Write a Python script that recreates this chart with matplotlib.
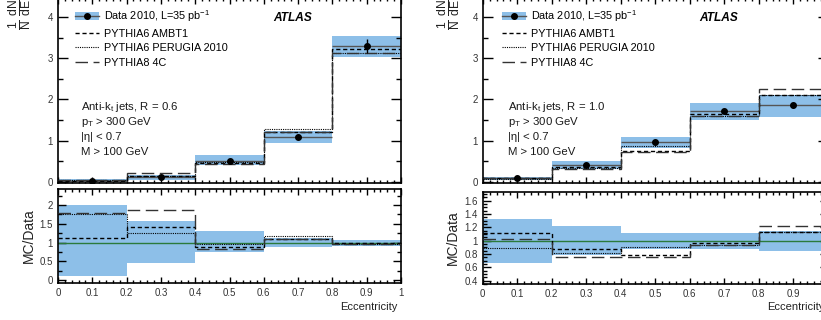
import numpy as np
import matplotlib
matplotlib.use('Agg')
import matplotlib.pyplot as plt
from matplotlib.patches import Patch
from matplotlib.lines import Line2D
from matplotlib.ticker import MultipleLocator, NullFormatter, FuncFormatter

plt.rcParams['font.family'] = ['Liberation Sans', 'DejaVu Sans']
plt.rcParams['mathtext.fontset'] = 'custom'
plt.rcParams['mathtext.rm'] = 'Liberation Sans'
plt.rcParams['mathtext.it'] = 'Liberation Sans:italic'
plt.rcParams['mathtext.default'] = 'regular'

# ------------------------------------------------------------
# binning (jet eccentricity)
# ------------------------------------------------------------
edges = [0.0, 0.2, 0.4, 0.6, 0.8, 1.0]

# anti-kt R = 0.6
data_r06 = [0.03, 0.11, 0.52, 1.10, 3.30]
stat_r06 = [0.01, 0.02, 0.04, 0.07, 0.17]
band_lo_r06 = [0.0, 0.05, 0.40, 0.95, 3.02]
band_hi_r06 = [0.06, 0.17, 0.65, 1.24, 3.54]
ambt1_r06 = [0.035, 0.15, 0.46, 1.20, 3.22]
perugia_r06 = [0.05, 0.14, 0.49, 1.28, 3.12]
py8_r06 = [0.05, 0.21, 0.44, 1.20, 3.12]
rband_lo_r06 = [0.12, 0.46, 0.75, 0.87, 0.915]
rband_hi_r06 = [2.0, 1.57, 1.31, 1.13, 1.067]
ambt1_ratio_r06 = [1.13, 1.41, 0.88, 1.10, 0.98]
perugia_ratio_r06 = [1.76, 1.25, 0.95, 1.17, 0.95]
py8_ratio_r06 = [1.80, 1.87, 0.84, 1.10, 0.96]

# anti-kt R = 1.0
data_r10 = [0.09, 0.42, 0.97, 1.71, 1.855]
stat_r10 = [0.01, 0.03, 0.04, 0.05, 0.05]
band_lo_r10 = [0.05, 0.31, 0.82, 1.50, 1.58]
band_hi_r10 = [0.13, 0.50, 1.09, 1.92, 2.12]
ambt1_r10 = [0.10, 0.37, 0.76, 1.65, 2.10]
perugia_r10 = [0.08, 0.35, 0.87, 1.60, 2.10]
py8_r10 = [0.09, 0.32, 0.73, 1.60, 2.26]
rband_lo_r10 = [0.67, 0.785, 0.88, 0.87, 0.845]
rband_hi_r10 = [1.325, 1.22, 1.12, 1.12, 1.15]
ambt1_ratio_r10 = [1.12, 0.88, 0.78, 0.96, 1.13]
perugia_ratio_r10 = [0.89, 0.82, 0.90, 0.93, 1.13]
py8_ratio_r10 = [1.03, 0.76, 0.75, 0.93, 1.22]

BAND = '#8dbfe8'
GREEN = '#2b7a3b'
TICKCOL = '#333333'

# line styles for the MC generators
STYLE_AMBT1 = dict(color='black', lw=1.0, linestyle=(0, (3, 2)))
STYLE_PERUGIA = dict(color='black', lw=0.8, linestyle=(0, (1, 1)))
STYLE_PY8 = dict(color='#333333', lw=1.0, linestyle=(0, (9, 4)))

fmt_g = FuncFormatter(lambda v, p: f'{v:g}')


def style_axis(ax, ymaj, ymin, ylen):
    ax.tick_params(which='both', direction='in', top=True, right=True,
                   colors='black', labelcolor=TICKCOL, labelsize=7, width=1.0)
    ax.tick_params(axis='y', which='major', length=ylen)
    ax.tick_params(axis='y', which='minor', length=ylen / 2)
    ax.tick_params(axis='x', which='major', length=4)
    ax.tick_params(axis='x', which='minor', length=2)
    ax.xaxis.set_major_locator(MultipleLocator(0.1))
    ax.xaxis.set_minor_locator(MultipleLocator(0.02))
    ax.yaxis.set_major_locator(MultipleLocator(ymaj))
    ax.yaxis.set_minor_locator(MultipleLocator(ymin))
    ax.xaxis.set_major_formatter(fmt_g)
    ax.yaxis.set_major_formatter(fmt_g)
    for s in ax.spines.values():
        s.set_linewidth(1.2)
    ax.set_xlim(0, 1)


def draw_panel(fig, main_rect, ratio_rect, radius, data, stat, blo, bhi,
               ambt1, perugia, py8, rlo, rhi, r_ambt1, r_perugia, r_py8,
               ratio_ylim, ratio_major, ratio_minor, leg_x, ylab_x):
    ax = fig.add_axes(main_rect)
    rax = fig.add_axes(ratio_rect)

    # --- main distribution ---
    ax.stairs(bhi, edges, baseline=blo, fill=True, color=BAND, lw=0, zorder=1)
    ax.hlines(data, edges[:-1], edges[1:], color='#555555', lw=1.0, zorder=2)
    ax.stairs(ambt1, edges, baseline=None, zorder=3, **STYLE_AMBT1)
    ax.stairs(perugia, edges, baseline=None, zorder=3, **STYLE_PERUGIA)
    ax.stairs(py8, edges, baseline=None, zorder=3, **STYLE_PY8)
    centers = 0.5 * (np.array(edges[:-1]) + np.array(edges[1:]))
    ax.errorbar(centers, data, yerr=stat, fmt='o', color='black', ms=4,
                elinewidth=1.0, capsize=0, zorder=4)
    ax.set_ylim(-0.025, 4.46)
    style_axis(ax, 1, 0.5, 7)
    ax.xaxis.set_major_formatter(NullFormatter())

    data_handle = (Patch(facecolor=BAND, edgecolor='none'),
                   Line2D([], [], color='#555555', lw=1.0, marker='o',
                          ms=4, mfc='black', mec='black'))
    handles = [data_handle,
               Line2D([], [], **STYLE_AMBT1),
               Line2D([], [], **STYLE_PERUGIA),
               Line2D([], [], **STYLE_PY8)]
    labels = ['Data 2010, L=35 pb$^{-1}$', 'PYTHIA6 AMBT1',
              'PYTHIA6 PERUGIA 2010', 'PYTHIA8 4C']
    ax.legend(handles, labels, loc='upper left', bbox_to_anchor=(leg_x, 0.945),
              frameon=False, fontsize=7.8, handlelength=2.2, handletextpad=0.45,
              labelspacing=0.42, borderaxespad=0, borderpad=0)

    ax.text(0.685, 0.89, 'ATLAS', transform=ax.transAxes, fontsize=8.6,
            fontweight='bold', fontstyle='italic', ha='center', va='center')

    info = [f'Anti-k$_t$ jets, R = {radius}', 'p$_T$ > 300 GeV',
            '|η| < 0.7', 'M > 100 GeV']
    for i, line in enumerate(info):
        ax.text(leg_x + 0.018, 0.41 - i * 0.081, line, transform=ax.transAxes,
                fontsize=8.2, ha='left', va='center', color='#1a1a1a')

    fig.text(ylab_x, 1 - 30 / 320, r'$\frac{1}{N}\;\frac{dN}{dE}$', rotation=90,
             ha='center', va='bottom', fontsize=12.5, color='#222222')

    # --- MC / data ratio ---
    rax.stairs(rhi, edges, baseline=rlo, fill=True, color=BAND, lw=0, zorder=1)
    rax.axhline(1.0, color=GREEN, lw=1.0, zorder=2)
    rax.stairs(r_ambt1, edges, baseline=None, zorder=3, **STYLE_AMBT1)
    rax.stairs(r_perugia, edges, baseline=None, zorder=3, **STYLE_PERUGIA)
    rax.stairs(r_py8, edges, baseline=None, zorder=3, **STYLE_PY8)
    rax.set_ylim(*ratio_ylim)
    style_axis(rax, ratio_major, ratio_minor, 6)
    rax.set_ylabel('MC/Data', fontsize=10, color='#222222', labelpad=3)
    rax.set_xlabel('Eccentricity', fontsize=8, color='#222222')
    rax.xaxis.set_label_coords(0.99, -0.2)
    rax.xaxis.label.set_ha('right')
    return ax, rax


fig = plt.figure(figsize=(8.21, 3.2), dpi=100)

draw_panel(fig, [58 / 821, 1 - 183 / 320, 343 / 821, 185 / 320],
           [58 / 821, 1 - 283 / 320, 343 / 821, 94 / 320], '0.6',
           data_r06, stat_r06, band_lo_r06, band_hi_r06,
           ambt1_r06, perugia_r06, py8_r06,
           rband_lo_r06, rband_hi_r06,
           ambt1_ratio_r06, perugia_ratio_r06, py8_ratio_r06,
           (-0.08, 2.43), 0.5, 0.25, 0.05, 20 / 821)

draw_panel(fig, [482.7 / 821, 1 - 183 / 320, 345 / 821, 185 / 320],
           [482.7 / 821, 1 - 284 / 320, 345 / 821, 92 / 320], '1.0',
           data_r10, stat_r10, band_lo_r10, band_hi_r10,
           ambt1_r10, perugia_r10, py8_r10,
           rband_lo_r10, rband_hi_r10,
           ambt1_ratio_r10, perugia_ratio_r10, py8_ratio_r10,
           (0.35, 1.73), 0.2, 0.05, 0.056, 449 / 821)

fig.savefig('out.png', dpi=100)
